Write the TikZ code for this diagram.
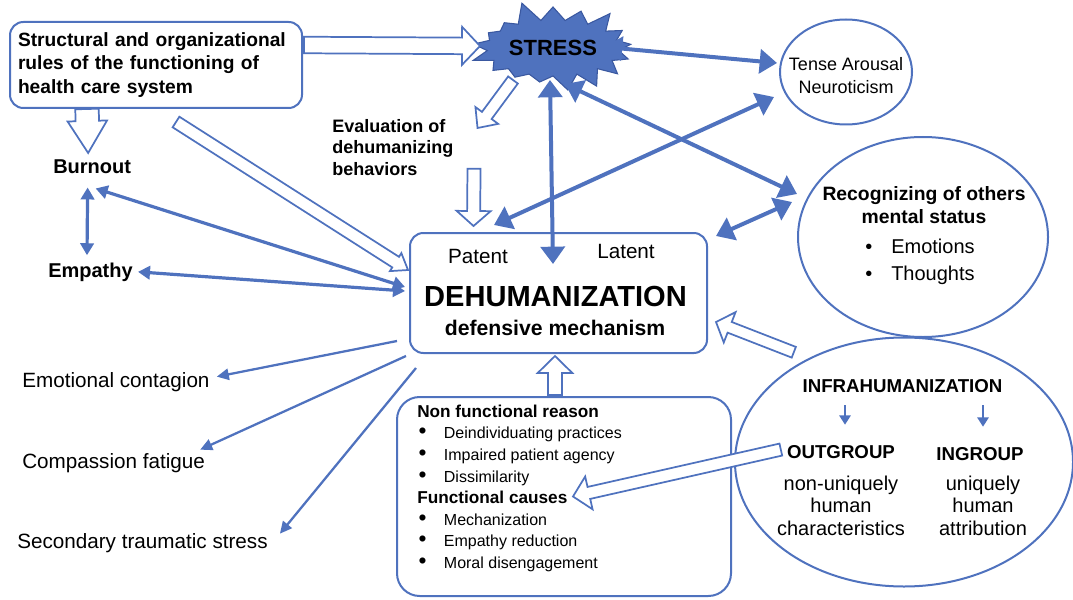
\documentclass[tikz,border=0pt]{standalone}
\usepackage{fontspec}
\setmainfont{Liberation Sans}
\usetikzlibrary{shapes,shapes.symbols,arrows.meta,calc}
\definecolor{diagblue}{RGB}{79,114,190}
\definecolor{stardraw}{RGB}{58,88,160}

% flecha hueca: origen, destino, medio cuerpo, media punta, largo punta
\newcommand{\hollowarrow}[5]{%
  \coordinate (ha) at #1;
  \coordinate (hb) at #2;
  \coordinate (hn) at ($(hb)!#5!(ha)$);
  \draw[hollowarr] ($(ha)!#3!90:(hb)$) -- ($(hn)!#3!-90:(ha)$) -- ($(hn)!#4!-90:(ha)$) -- (hb)
    -- ($(hn)!#4!90:(ha)$) -- ($(hn)!#3!90:(ha)$) -- ($(ha)!#3!-90:(hb)$) -- cycle;
}
\newcommand{\bigdot}{\makebox[20pt][l]{\hspace*{1pt}{\fontsize{17}{16}\selectfont\textbullet}}}

\begin{document}
\begin{tikzpicture}[x=0.75pt, y=-0.75pt]
  \tikzstyle{boxframe}=[rectangle, draw=diagblue, line width=1.5pt, rounded corners=10pt, inner sep=0pt]
  \tikzstyle{oval}=[ellipse, draw=diagblue, line width=1.5pt, inner sep=0pt]
  \tikzstyle{burst}=[starburst, starburst points=17, starburst point height=16pt, random starburst=5, fill=diagblue, draw=stardraw, line width=0.8pt, inner xsep=2pt, inner ysep=9pt, font=\fontsize{16.5}{18}\selectfont\bfseries]
  \tikzstyle{txt}=[inner sep=0pt, font=\fontsize{15.5}{18}\selectfont]
  \tikzstyle{txtbold}=[inner sep=0pt, font=\fontsize{15}{18}\selectfont\bfseries]
  \tikzstyle{hollowarr}=[draw=diagblue, fill=white, line width=1.3pt, line join=miter]
  \tikzstyle{bigarr}=[{Triangle[length=13pt,width=18pt]}-{Triangle[length=13pt,width=18pt]}, color=diagblue, line width=3pt]
  \tikzstyle{midarr}=[{Triangle[length=9pt,width=10pt]}-{Triangle[length=9pt,width=10pt]}, color=diagblue, line width=2.4pt]
  \tikzstyle{thinarr}=[-{Triangle[length=9pt,width=8.5pt]}, color=diagblue, line width=1.7pt]
  \tikzstyle{smallarr}=[-{Triangle[length=7pt,width=8.5pt]}, color=diagblue, line width=1.4pt]

  \useasboundingbox (0,0) rectangle (1073,599);

  % Cajas y elipses
  \node[boxframe, text width=207pt, align=left, inner xsep=6pt, minimum height=64.5pt, font=\fontsize{14.4}{17.6}\selectfont\bfseries] (rules) at (156,65) {Structural and organizational\\rules of the functioning of\\health care system};
  \node[boxframe, minimum width=222.75pt, minimum height=90pt] (dehum) at (558.5,293) {};
  \node[boxframe, rounded corners=17pt, minimum width=250.5pt, minimum height=149.25pt] (causes) at (564,496.5) {};
  \node[oval, minimum width=99pt, minimum height=78.75pt] (tense) at (846,72) {};
  \node[oval, minimum width=187.5pt, minimum height=150pt] (recog) at (923,237) {};
  \node[oval, minimum width=253.5pt, minimum height=186.75pt] (infra) at (904,462) {};
  \node[burst] (stress) at (553,48) {STRESS};

  % Textos
  \node[txtbold, anchor=base west] (burnout) at (53,173) {Burnout};
  \node[txtbold, anchor=base west] (empathy) at (48,277) {Empathy};
  \node[txtbold, font=\fontsize{13.5}{16.1}\selectfont\bfseries, align=left, anchor=north west] (evaluation) at (332,119) {Evaluation of\\dehumanizing\\behaviors};
  \node[txt, anchor=base west] (emotional) at (22,387) {Emotional contagion};
  \node[txt, anchor=base west] (compassion) at (22,468) {Compassion fatigue};
  \node[txt, anchor=base west] (secondary) at (17,548) {Secondary traumatic stress};

  \node[txt, anchor=base] (patent) at (478,263) {Patent};
  \node[txt, anchor=base] (latent) at (626,258) {Latent};
  \node[txtbold, font=\fontsize{21.8}{24}\selectfont\bfseries, anchor=base] (dehumtit) at (555.5,306) {DEHUMANIZATION};
  \node[txtbold, font=\fontsize{15.9}{18}\selectfont\bfseries, anchor=base] (defmech) at (555,335) {defensive mechanism};

  \node[txt, font=\fontsize{13.5}{17.2}\selectfont, align=center] (tensetxt) at (846,76) {Tense Arousal\\Neuroticism};
  \node[txtbold, font=\fontsize{14.5}{17.3}\selectfont\bfseries, align=center, anchor=north] (recogtit) at (924,186) {Recognizing of others\\mental status};
  \node[txt, font=\fontsize{15}{20.2}\selectfont, align=left, anchor=north west] (recoglist) at (865,239) {\makebox[19.5pt][l]{\textbullet}Emotions\\\makebox[19.5pt][l]{\textbullet}Thoughts};

  \node[txtbold, font=\fontsize{14}{17}\selectfont\bfseries, anchor=base] (infratit) at (902.5,392) {INFRAHUMANIZATION};
  \node[txtbold, font=\fontsize{14}{17}\selectfont\bfseries, anchor=base] (outgroup) at (841,458) {OUTGROUP};
  \node[txtbold, font=\fontsize{14}{17}\selectfont\bfseries, anchor=base] (ingroup) at (980,460) {INGROUP};
  \node[txt, font=\fontsize{15}{16.9}\selectfont, align=center, anchor=north] (outtxt) at (841,475.7) {non-uniquely\\human\\characteristics};
  \node[txt, font=\fontsize{15}{16.9}\selectfont, align=center, anchor=north] (intxt) at (983,475.7) {uniquely\\human\\attribution};

  \node[txt, font=\fontsize{12}{16.2}\selectfont, align=left, anchor=north west] (causelist) at (417,404.5) {{\fontsize{12.9}{16.2}\selectfont\bfseries Non functional reason}\\
    \bigdot Deindividuating practices\\
    \bigdot Impaired patient agency\\
    \bigdot Dissimilarity\\
    {\fontsize{12.9}{16.2}\selectfont\bfseries Functional causes}\\
    \bigdot Mechanization\\
    \bigdot Empathy reduction\\
    \bigdot Moral disengagement};

  % Flechas huecas
  \hollowarrow{($(rules.east)+(1,-20)$)}{($(stress.center)+(-73,-2)$)}{6.2pt}{14.3pt}{13.5pt}
  \hollowarrow{($(rules.south)+(-69,0)$)}{($(burnout.north)+(-4,-6)$)}{8.8pt}{14.8pt}{24pt}
  \hollowarrow{($(rules.south)+(20,13)$)}{($(dehum.west)+(-1,-23)$)}{4.7pt}{8pt}{11pt}
  \hollowarrow{($(evaluation.south east)+(20.5,-7)$)}{($(dehum.north)+(-85,-6)$)}{4.9pt}{12.75pt}{11.25pt}
  \hollowarrow{($(causes.north)+(-9,-1)$)}{($(dehum.south)+(-3.5,2)$)}{5.25pt}{13pt}{12.75pt}
  \hollowarrow{($(infra.north west)+(10,-21)$)}{($(dehum.east)+(8,29)$)}{4.3pt}{12.2pt}{11pt}
  \hollowarrow{($(outgroup.west)+(-6,-2)$)}{($(causes.east)+(-159,0)$)}{4.6pt}{12.6pt}{12.2pt}
  \hollowarrow{($(stress.center)+(-40,32)$)}{($(evaluation.north east)+(24,9)$)}{4.5pt}{10.6pt}{11.7pt}

  % Flechas llenas
  \draw[bigarr] ($(stress.center)+(52,-1)$) -- ($(tense.west)+(-2,-9)$);
  \draw[bigarr] ($(stress.center)+(-3,32)$) -- ($(dehum.north)+(-5.5,32)$);
  \draw[bigarr] ($(stress.center)+(12,36)$) -- ($(recog.west)+(0,-43)$);
  \draw[bigarr] ($(tense.west)+(-5,25)$) -- ($(dehum.north)+(-64.5,-7)$);
  \draw[bigarr] ($(recog.west)+(-5,-35)$) -- ($(dehum.north east)+(8,4)$);
  \draw[midarr] ($(burnout.south)+(-4.5,14)$) -- ($(empathy.north)+(-3.5,-7)$);
  \draw[midarr] ($(burnout.south)+(3.5,15)$) -- ($(dehum.west)+(-4,-6)$);
  \draw[midarr] ($(empathy.east)+(5,0)$) -- ($(dehum.west)+(-4,-2)$);
  \draw[thinarr] ($(dehum.south west)+(-12,-13)$) -- ($(emotional.east)+(7,-5)$);
  \draw[thinarr] ($(dehum.south west)+(-3,2)$) -- ($(compassion.east)+(-5,-13)$);
  \draw[thinarr] ($(dehum.south west)+(7,14)$) -- ($(secondary.east)+(12,-9)$);
  \draw[smallarr] ($(infratit.south -| outgroup.north)+(4,13)$) -- ($(outgroup.north)+(4,-20)$);
  \draw[smallarr] ($(infratit.south -| ingroup.north)+(3,13)$) -- ($(ingroup.north)+(3,-20)$);
\end{tikzpicture}
\end{document}
